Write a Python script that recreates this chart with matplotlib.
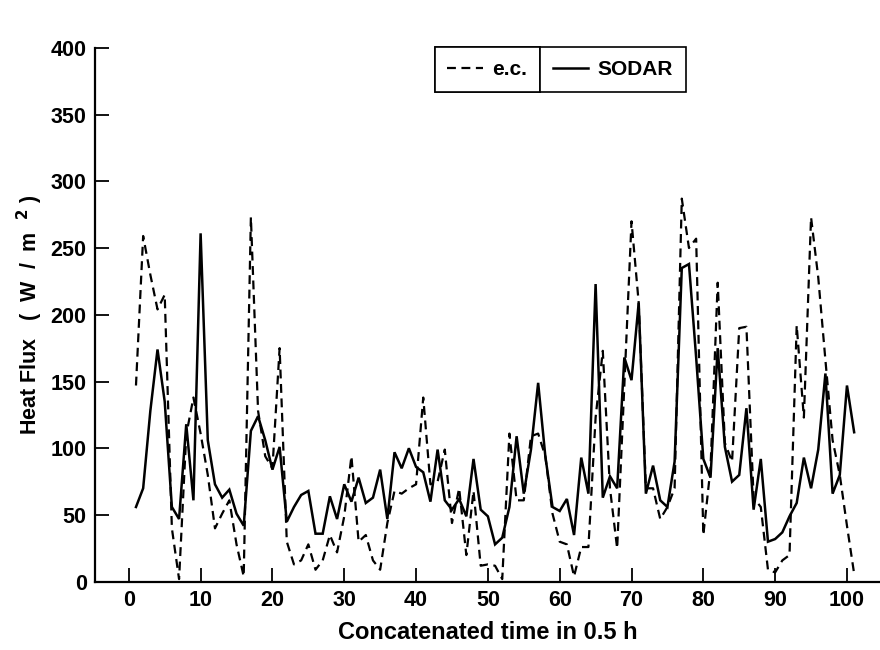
import matplotlib
matplotlib.use("Agg")
import matplotlib.pyplot as plt

# ---- data ----
time_idx = list(range(1, 102))
sodar = [56, 70, 128, 174, 135, 56, 47, 118, 61, 261,
         106, 73, 63, 69, 51, 42, 113, 124, 106, 84,
         101, 45, 56, 65, 68, 36, 36, 64, 47, 73,
         60, 78, 59, 63, 84, 47, 97, 85, 100, 86,
         82, 60, 99, 61, 54, 62, 49, 92, 54, 49,
         28, 33, 56, 109, 66, 99, 149, 94, 56, 53,
         62, 35, 93, 66, 223, 63, 79, 70, 168, 151,
         209, 66, 87, 61, 56, 90, 235, 238, 168, 92,
         78, 175, 101, 75, 80, 130, 54, 92, 30, 32,
         37, 49, 59, 93, 70, 99, 156, 66, 80, 147,
         112]
ec = [147, 259, 230, 204, 215, 40, 2, 110, 138, 111,
      80, 40, 51, 61, 28, 4, 273, 128, 94, 85,
      175, 30, 13, 16, 28, 9, 16, 35, 22, 49,
      94, 30, 35, 16, 9, 44, 68, 66, 70, 73,
      138, 73, 75, 99, 44, 70, 20, 68, 12, 13,
      12, 2, 111, 61, 61, 109, 111, 94, 51, 30,
      28, 4, 26, 26, 123, 173, 70, 25, 147, 270,
      209, 70, 70, 47, 56, 70, 287, 250, 257, 35,
      85, 224, 104, 90, 190, 191, 63, 56, 9, 7,
      16, 20, 192, 123, 273, 228, 166, 106, 80, 42,
      6]
xticks = list(range(0, 101, 10))
yticks = list(range(0, 401, 50))

plt.rcParams['font.family'] = ['Liberation Sans', 'DejaVu Sans']

fig = plt.figure(figsize=(8.8, 6.5), dpi=100)
ax = fig.add_axes([0.108, 0.105, 0.892, 0.8215])

l_ec, = ax.plot(time_idx, ec, color='black', lw=1.6, linestyle=(0, (4, 2.5)))
l_so, = ax.plot(time_idx, sodar, color='black', lw=1.8, solid_joinstyle='miter')

ax.set_xlim(-4.7, 104.6)
ax.set_ylim(0, 400)
ax.set_xticks(xticks)
ax.set_yticks(yticks)
ax.tick_params(direction='in', length=10, width=1.3, labelsize=15.5, pad=6)
for lab in ax.get_xticklabels() + ax.get_yticklabels():
    lab.set_fontweight('bold')
for s in ['top', 'right']:
    ax.spines[s].set_visible(False)
for s in ['left', 'bottom']:
    ax.spines[s].set_linewidth(1.6)

ax.set_xlabel('Concatenated time in 0.5 h', fontsize=17, fontweight='bold', labelpad=7)
ax.set_ylabel(r'Heat Flux   (  W  /  m  $^{\mathbf{2}}$ )', fontsize=15.5,
              fontweight='bold', labelpad=4)

# legend: two adjacent boxed cells
W, H = 880.0, 650.0
x_div = 540 / W
y_top = 1 - 47 / H
common = dict(frameon=True, fancybox=False, edgecolor='black', framealpha=1,
              prop={'size': 15, 'weight': 'bold'}, handlelength=1.7,
              borderpad=0.62, handletextpad=0.45, borderaxespad=0)
leg1 = fig.legend([l_ec], ['e.c.'], loc='upper right',
                  bbox_to_anchor=(x_div, y_top), **common)
leg1.get_frame().set_linewidth(1.2)
leg2 = fig.legend([l_so], ['SODAR'], loc='upper left',
                  bbox_to_anchor=(x_div, y_top), **common)
leg2.get_frame().set_linewidth(1.2)
fig.add_artist(leg1)

fig.savefig('out.png', dpi=100)
